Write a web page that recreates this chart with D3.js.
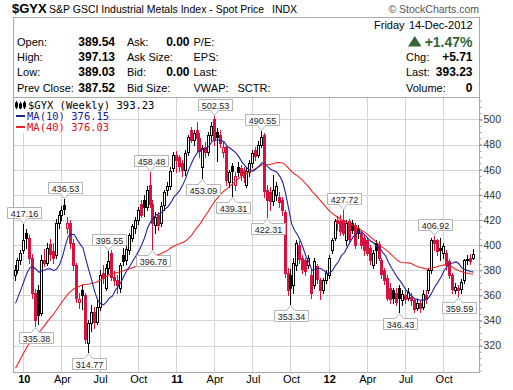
<!DOCTYPE html>
<html>
<head>
<meta charset="utf-8">
<script src="https://d3js.org/d3.v7.min.js"></script>
<style>
  body { margin: 0; background: #fff; }
  svg { display: block; font-family: Arial, "Liberation Sans", sans-serif; }
</style>
</head>
<body>
<svg id="chart" width="513" height="390"></svg>
<script>
// weekly bars, first bar is the week of 14-Dec-2009
const firstWeek = "2009-12-14";

const weekOpen = [376,380,388,396,410,406,390,362,364,346, 388,386,401,395,392,418,424,432,414,418,
  402,384,355,364,360,322,338,347,339,351, 378,366,382,394,375,372,366,392,388,396,
  406,414,420,433,436,430,448,433,416,424, 418,432,444,447,461,472,470,465,460,474,
  492,484,492,485,462,478,474,488,500,490, 488,474,478,450,463,448,462,461,460,448,
  458,465,476,472,480,488,444,442,435,440, 438,436,426,378,376,368,384,400,390,388,
  384,376,368,383,372,364,372,376,396,406, 420,419,420,404,419,418,416,414,410,406,
  404,398,384,402,401,388,380,374,366,364, 362,366,356,360,358,359,356,350,354,351,
  360,364,380,404,404,398,394,394,387,376, 364,366,365,372,388,390,389.54];

const weekHigh = [384,390,396,417.16,413,408,393,365,368,392, 397,402,405,402,421,427,431,436.53,422,420,
  405,386,362,368,362,340,352,351,356,380, 384,385,395.55,396,379,376,386,398,400,410,
  417,422,430,436,440,447,458.48,436,426,426, 434,444,450,462,474,475,472,468,476,488,
  494,492,498,489,480,482,490,498,502.53,493, 492,482,480,460,465,458,466,464,462,462,
  468,476,478,483,490.55,489,448,446,456,450, 442,438,428,382,381,390,404,403,392,390,
  392,380,390,385,374,374,380,392,406,421, 423,424,427.72,420,421,420,418,416,412,408,
  406,400,396,404,403,390,382,376,370,366, 366,368,364,364,366,362,358,356,356,364,
  364,382,406,406.92,405,406,402,396,389,378, 370,368,373,389,392,393,397.13];

const weekLow = [372,378,385,394,398,386,358,335.38,337,344, 383,384,388,386,390,414,420,425,410,398,
  380,355,350,349,322,314.77,332,334,337,348, 370,364,378,372,368,362,363,384,385,393,
  403,410,417,422,423,428,430,396.78,410,412, 415,428,440,445,459,458,459,455,456,472,
  482,480,474,470,453.09,470,472,484,480,467, 478,470,448,446,439.31,444,455,452,450,446,
  455,462,468,470,478,438,422.31,428,432,436, 430,424,375,360,353.34,362,380,386,378,376,
  382,358,366,370,357,362,370,374,394,404, 412,408,408,400,402,410,398,406,398,392,
  392,385,382,386,388,374,369,356,354,354, 352,346.43,352,354,356,352,347,348,347,349,
  354,362,378,396,392,388,390,381,374,362, 362,359.59,362,370,385,385,389.03];

const weekClose = [380,388,394,404,406,390,362,340,344,388, 386,398,393,390,418,424,428,429,418,402,
  384,358,357,360,325,338,347,339,351,376, 374,382,387,375,372,368,384,387,397,408,
  415,420,428,424,430,444,433,418,422,416, 431,442,447,459,472,468,463,460,473,486,
  484,489,485,475,477,474,488,495,484,486, 481,478,452,458,459,455,458,456,454,459,
  465,473,471,480,486,443,436,435,444,447, 434,428,378,364,366,386,402,389,381,379,
  390,362,387,373,364,372,378,390,404,419, 418,411,410,418,405,412,400,410,400,396,
  394,388,394,396,390,377,372,358,357,358, 355,358,361,357,363,356,349,354,350,361,
  357,380,404,402,395,396,399,384,376,365, 367,364,371,388,389,387.52,393.23];

// closes of the 39 weeks before the window, only used to warm up the moving averages
const close2009 = [215,220,228,235,242,246,252,258,263,268, 272,276,280,284,288,294,300,306,310,312,
  314,316,318,320,324,326,322,318,316,320, 328,334,340,344,350,356,360,368,376];

// swing points that carry a value label
const peakWeeks = [3, 17, 32, 46, 68, 84, 112, 143];
const troughWeeks = [7, 25, 47, 64, 74, 86, 94, 131, 151];

const priceTicks = [320, 340, 360, 380, 400, 420, 440, 460, 480, 500];

const quoteLeft = [
  ["Open:", "389.54", "Ask:", "0.00", "P/E:"],
  ["High:", "397.13", "Ask Size:", "", "EPS:"],
  ["Low:", "389.03", "Bid:", "0.00", "Last:"],
  ["Prev Close:", "387.52", "Bid Size:", "", "VWAP:"]
];
const quoteRight = [["", ""], ["Chg:", "+5.71"], ["Last:", "393.23"], ["Volume:", "0"]];

const svg = d3.select("#chart");
const frameL = 13.5, frameR = 479.5, frameT = 17.5, plotT = 97.5, plotB = 372.5;

svg.append("rect").attr("width", 513).attr("height", 390).attr("fill", "#fff");

const parseDay = d3.timeParse("%Y-%m-%d");
const weeks = weekClose.map((c, i) => d3.timeDay.offset(parseDay(firstWeek), 7 * i));

const x = d3.scaleTime().domain(d3.extent(weeks)).range([15, 473]);
const px = d => Math.floor(x(d)) + 0.5;
const y = d3.scaleLinear().domain([299, 517.5]).range([372, 97.5]);
const py = v => Math.round(y(v)) + 0.5;

// first weekly bar of each quarter
const quarterWeeks = weeks.filter((d, i) => i > 0 && d.getMonth() % 3 === 0 && weeks[i - 1].getMonth() !== d.getMonth());

// grid
const grid = svg.append("g").attr("stroke", "#d4d4d4").attr("stroke-width", 1);
grid.selectAll("line.h")
  .data(priceTicks)
  .enter().append("line")
    .attr("x1", frameL).attr("x2", frameR)
    .attr("y1", d => py(d)).attr("y2", d => py(d));
grid.selectAll("line.v")
  .data(quarterWeeks)
  .enter().append("line")
    .attr("x1", d => px(d)).attr("x2", d => px(d))
    .attr("y1", plotT).attr("y2", plotB);

// legend backgrounds
svg.append("rect").attr("x", 14).attr("y", 98).attr("width", 144).attr("height", 12).attr("fill", "#fff");
svg.append("rect").attr("x", 14).attr("y", 110).attr("width", 86).attr("height", 23).attr("fill", "#fff");

// candles
const bars = weekClose.map((c, i) => ({
  date: weeks[i], o: weekOpen[i], h: weekHigh[i], l: weekLow[i], c: c,
  prev: i === 0 ? close2009[close2009.length - 1] : weekClose[i - 1]
}));
const red = "#d6123e";
const colorOf = d => d.c >= d.prev ? "#000" : red;

const candles = svg.append("g");
candles.selectAll("line.wick")
  .data(bars)
  .enter().append("line")
    .attr("x1", d => px(d.date)).attr("x2", d => px(d.date))
    .attr("y1", d => Math.round(y(d.h))).attr("y2", d => Math.round(y(d.l)) + 1)
    .attr("stroke", colorOf);
candles.selectAll("rect.body")
  .data(bars)
  .enter().append("rect")
    .attr("x", d => px(d.date) - 1)
    .attr("width", 2)
    .attr("y", d => Math.round(y(Math.max(d.o, d.c))) + 0.5)
    .attr("height", d => Math.max(1, Math.round(y(Math.min(d.o, d.c))) - Math.round(y(Math.max(d.o, d.c)))))
    .attr("fill", d => d.c < d.o ? colorOf(d) : "#fff")
    .attr("stroke", colorOf);

// moving averages
const allClose = close2009.concat(weekClose);
const off = close2009.length;
function movingAvg(n) {
  return weekClose.map((c, i) => d3.mean(allClose.slice(off + i - n + 1, off + i + 1)));
}
const maLine = d3.line().x((d, i) => x(weeks[i]) + 0.5).y(d => y(d));
svg.append("path").attr("d", maLine(movingAvg(40)))
  .attr("fill", "none").attr("stroke", "#f02424").attr("stroke-width", 1.1);
svg.append("path").attr("d", maLine(movingAvg(10)))
  .attr("fill", "none").attr("stroke", "#23239c").attr("stroke-width", 1.1);

// frames
svg.append("rect").attr("x", frameL).attr("y", frameT).attr("width", frameR - frameL).attr("height", plotT - frameT)
  .attr("fill", "none").attr("stroke", "#a8a8a8");
svg.append("rect").attr("x", frameL).attr("y", plotT).attr("width", frameR - frameL).attr("height", plotB - plotT)
  .attr("fill", "none").attr("stroke", "#a8a8a8");

// price axis
const yMinor = svg.append("g").attr("transform", "translate(" + frameR + ",0)")
  .call(d3.axisRight(y).tickValues(d3.range(300, 516, 5)).tickSize(2).tickFormat(""));
yMinor.select(".domain").remove();
yMinor.selectAll("line").attr("stroke", "#999");

const yAxis = svg.append("g").attr("transform", "translate(" + frameR + ",0)")
  .call(d3.axisRight(y).tickValues(priceTicks).tickSize(3).tickPadding(1));
yAxis.select(".domain").remove();
yAxis.selectAll("line").attr("stroke", "#888");
yAxis.selectAll("text")
  .attr("font-family", "Arial, 'Liberation Sans', sans-serif")
  .attr("font-size", "10.5px")
  .attr("fill", "#333");

// date axis
const xAxis = svg.append("g").attr("transform", "translate(0," + plotB + ")")
  .call(d3.axisBottom(x).tickValues(quarterWeeks).tickSize(0).tickPadding(3)
    .tickFormat(d => d.getMonth() === 0 ? d3.timeFormat("%y")(d) : d3.timeFormat("%b")(d)));
xAxis.select(".domain").remove();
xAxis.selectAll("text")
  .attr("font-family", "Arial, 'Liberation Sans', sans-serif")
  .attr("font-size", "11px")
  .attr("fill", "#000")
  .attr("font-weight", d => d.getMonth() === 0 ? "bold" : "normal");

// legend
const legend = svg.append("g").attr("font-family", "'DejaVu Sans Mono', monospace").attr("font-size", "10.5px");
const icon = legend.append("g").attr("fill", "#000").attr("stroke", "#000");
[16.5, 20.5, 24.5].forEach((ix, k) => {
  icon.append("line").attr("x1", ix).attr("x2", ix).attr("y1", 101 + k % 2).attr("y2", 109);
  icon.append("rect").attr("x", ix - 1).attr("y", 103 + k % 2).attr("width", 2).attr("height", 4);
});
legend.append("text").attr("x", 28).attr("y", 108.5).attr("fill", "#000").text("$GYX (Weekly) 393.23");
legend.append("line").attr("x1", 16).attr("x2", 25).attr("y1", 116).attr("y2", 116)
  .attr("stroke", "#23239c").attr("stroke-width", 2);
legend.append("text").attr("x", 27).attr("y", 119.5).attr("fill", "#1c1c8c").text("MA(10) 376.15");
legend.append("line").attr("x1", 16).attr("x2", 25).attr("y1", 127).attr("y2", 127)
  .attr("stroke", "#f02424").attr("stroke-width", 2);
legend.append("text").attr("x", 27).attr("y", 130.5).attr("fill", "#e01010").text("MA(40) 376.03");

// swing labels
const notes = svg.append("g").attr("font-family", "Arial, 'Liberation Sans', sans-serif").attr("font-size", "9px");
function addNote(i, isPeak) {
  const cx = px(weeks[i]);
  const val = isPeak ? weekHigh[i] : weekLow[i];
  const tip = isPeak ? Math.round(y(val)) - 0.5 : Math.round(y(val)) + 1.5;
  const label = notes.append("text").attr("fill", "#222").attr("text-anchor", "middle").text(val.toFixed(2));
  const w = Math.round(label.node().getComputedTextLength()) + 6;
  const L = Math.round(cx - w / 2) + 0.5, R = L + w;
  const T = isPeak ? tip - 16 : tip + 5;
  const B = T + 11;
  const d = isPeak
    ? `M${L},${T}H${R}V${B}H${cx + 4}L${cx},${tip}L${cx - 4},${B}H${L}Z`
    : `M${L},${T}H${cx - 4}L${cx},${tip}L${cx + 4},${T}H${R}V${B}H${L}Z`;
  notes.insert("path", "text").attr("d", d).attr("fill", "#fff").attr("stroke", "#b4b4b4");
  label.attr("x", (L + R) / 2).attr("y", T + 9);
}
peakWeeks.forEach(i => addNote(i, true));
troughWeeks.forEach(i => addNote(i, false));

// header
svg.append("text").attr("x", 12).attr("y", 13).attr("font-size", "13px").attr("font-weight", "bold").text("$GYX");
svg.append("text").attr("x", 49).attr("y", 13).attr("font-size", "10.5px").text("S&P GSCI Industrial Metals Index - Spot Price");
svg.append("text").attr("x", 272).attr("y", 13).attr("font-size", "10.5px").text("INDX");
svg.append("text").attr("x", 479).attr("y", 12.5).attr("font-size", "10.5px").attr("fill", "#555")
  .attr("text-anchor", "end").text("\u00a9 StockCharts.com");

const quote = svg.append("g").attr("font-size", "11px").attr("fill", "#000");
const rowY = k => 45.7 + 15.3 * k;
quoteLeft.forEach((r, k) => {
  quote.append("text").attr("x", 17).attr("y", rowY(k)).text(r[0]);
  quote.append("text").attr("x", 115).attr("y", rowY(k)).attr("text-anchor", "end")
    .attr("font-weight", "bold").attr("font-size", "12px").text(r[1]);
  quote.append("text").attr("x", 127).attr("y", rowY(k)).text(r[2]);
  quote.append("text").attr("x", 189.5).attr("y", rowY(k)).attr("text-anchor", "end")
    .attr("font-weight", "bold").attr("font-size", "12px").text(r[3]);
  quote.append("text").attr("x", 193.5).attr("y", rowY(k)).text(r[4]);
});
quote.append("text").attr("x", 237.5).attr("y", rowY(3)).text("SCTR:");
quoteRight.forEach((r, k) => {
  quote.append("text").attr("x", 406).attr("y", rowY(k)).text(r[0]);
  quote.append("text").attr("x", 472.5).attr("y", rowY(k)).attr("text-anchor", "end")
    .attr("font-weight", "bold").attr("font-size", "12px").text(r[1]);
});
quote.append("text").attr("x", 374).attr("y", 29).text("Friday");
quote.append("text").attr("x", 472.5).attr("y", 29).attr("text-anchor", "end").text("14-Dec-2012");
svg.append("path").attr("d", "M408,46.5L421.5,46.5L414.75,36Z").attr("fill", "#336633");
svg.append("text").attr("x", 472.5).attr("y", 46.7).attr("text-anchor", "end")
  .attr("font-size", "14px").attr("font-weight", "bold").attr("fill", "#336633").text("+1.47%");
</script>
</body>
</html>
